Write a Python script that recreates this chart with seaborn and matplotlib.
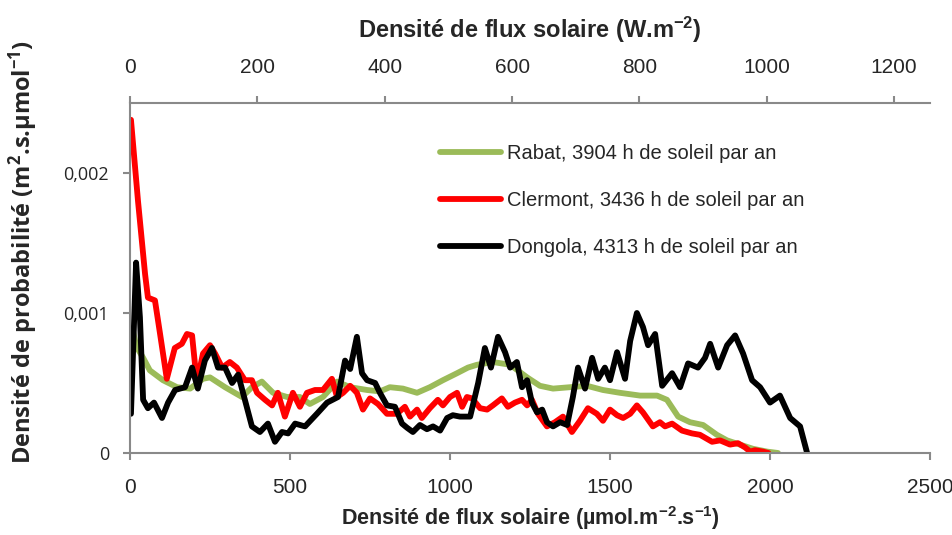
import numpy as np
import pandas as pd
import seaborn as sns
import matplotlib
matplotlib.use("Agg")
import matplotlib.pyplot as plt
from matplotlib.ticker import FixedLocator, FixedFormatter

# Photosynthetic photon flux density (µmol.m-2.s-1) and probability density (m2.s.µmol-1)
rabat_x = [8, 20, 41, 62, 103, 147, 188, 228, 250, 297, 350, 381, 412, 447, 491, 531, 562, 603,
           647, 688, 741, 781, 812, 853, 897, 937, 978, 1022, 1056, 1084, 1134, 1188, 1241, 1281,
           1322, 1375, 1428, 1478, 1531, 1594, 1647, 1678, 1713, 1750, 1791, 1834, 1866, 1906,
           1947, 1991, 2025]
rabat_y = [0.00088, 0.00076, 0.00068, 0.00059, 0.00052, 0.00047, 0.00046, 0.00053, 0.00054,
           0.00047, 0.00040, 0.00047, 0.00051, 0.00043, 0.00040, 0.00040, 0.00035, 0.00040,
           0.00051, 0.00047, 0.00045, 0.00044, 0.00047, 0.00046, 0.00043, 0.00047, 0.00052,
           0.00057, 0.00061, 0.00063, 0.00065, 0.00063, 0.00054, 0.00048, 0.00046, 0.00047,
           0.00048, 0.00045, 0.00043, 0.00041, 0.00041, 0.00038, 0.00026, 0.00022, 0.00020,
           0.00013, 0.00009, 0.00006, 0.00003, 0.00001, 0.0]

clermont_x = [3, 25, 47, 56, 78, 94, 115, 140, 162, 178, 194, 209, 228, 250, 266, 288, 312, 334,
              359, 381, 397, 422, 444, 462, 484, 509, 531, 553, 578, 603, 631, 647, 666, 688, 709,
              728, 750, 775, 803, 834, 859, 875, 897, 912, 937, 962, 978, 1000, 1022, 1038, 1053,
              1069, 1094, 1116, 1134, 1162, 1181, 1203, 1225, 1241, 1256, 1275, 1303, 1328, 1353,
              1381, 1406, 1431, 1459, 1478, 1500, 1522, 1541, 1563, 1584, 1603, 1634, 1656, 1672,
              1694, 1725, 1756, 1781, 1819, 1844, 1875, 1900, 1922, 1938, 1953, 1978, 1995]
clermont_y = [0.00238, 0.00180, 0.00128, 0.00111, 0.00109, 0.00085, 0.00053, 0.00075, 0.00078,
              0.00085, 0.00084, 0.00050, 0.00071, 0.00077, 0.00071, 0.00061, 0.00065, 0.00061,
              0.00052, 0.00052, 0.00043, 0.00038, 0.00034, 0.00043, 0.00026, 0.00043, 0.00033,
              0.00043, 0.00045, 0.00045, 0.00053, 0.00040, 0.00043, 0.00048, 0.00043, 0.00031,
              0.00039, 0.00035, 0.00028, 0.00028, 0.00033, 0.00026, 0.00031, 0.00025, 0.00032,
              0.00038, 0.00034, 0.00040, 0.00043, 0.00033, 0.00040, 0.00039, 0.00032, 0.00031,
              0.00034, 0.00039, 0.00033, 0.00036, 0.00038, 0.00034, 0.00038, 0.00028, 0.00019,
              0.00022, 0.00026, 0.00015, 0.00023, 0.00032, 0.00028, 0.00023, 0.00031, 0.00027,
              0.00025, 0.00028, 0.00034, 0.00029, 0.00019, 0.00022, 0.00019, 0.00021, 0.00016,
              0.00014, 0.00013, 0.00008, 0.00009, 0.00006, 0.00007, 0.00004, 0.00001, 0.00002,
              0.00001, 0.0]

dongola_x = [3, 19, 31, 41, 56, 75, 100, 119, 141, 172, 194, 212, 234, 256, 275, 297, 319, 338,
             359, 381, 406, 431, 453, 475, 494, 516, 547, 584, 616, 650, 672, 688, 709, 725, 741,
             766, 781, 803, 828, 850, 866, 884, 906, 928, 947, 969, 991, 1009, 1031, 1063, 1088,
             1109, 1128, 1150, 1172, 1188, 1209, 1225, 1241, 1256, 1272, 1288, 1303, 1322, 1344,
             1366, 1384, 1400, 1422, 1444, 1463, 1484, 1500, 1522, 1547, 1563, 1584, 1603, 1619,
             1641, 1663, 1694, 1719, 1744, 1775, 1797, 1813, 1838, 1866, 1891, 1916, 1944, 1969,
             2000, 2031, 2063, 2094, 2116]
dongola_y = [0.00028, 0.00136, 0.00097, 0.00038, 0.00032, 0.00036, 0.00025, 0.00036, 0.00045,
             0.00047, 0.00061, 0.00046, 0.00066, 0.00075, 0.00061, 0.00061, 0.00050, 0.00056,
             0.00038, 0.00019, 0.00015, 0.00021, 0.00008, 0.00015, 0.00014, 0.00021, 0.00019,
             0.00028, 0.00036, 0.00040, 0.00066, 0.00060, 0.00083, 0.00057, 0.00052, 0.00050,
             0.00043, 0.00034, 0.00033, 0.00021, 0.00018, 0.00015, 0.00020, 0.00017, 0.00019,
             0.00016, 0.00025, 0.00027, 0.00026, 0.00026, 0.00050, 0.00075, 0.00061, 0.00083,
             0.00072, 0.00061, 0.00065, 0.00047, 0.00052, 0.00036, 0.00029, 0.00031, 0.00022,
             0.00019, 0.00022, 0.00020, 0.00040, 0.00061, 0.00046, 0.00068, 0.00053, 0.00061,
             0.00052, 0.00072, 0.00053, 0.00080, 0.00100, 0.00090, 0.00077, 0.00085, 0.00048,
             0.00057, 0.00047, 0.00064, 0.00061, 0.00068, 0.00078, 0.00061, 0.00077, 0.00084,
             0.00071, 0.00052, 0.00047, 0.00036, 0.00041, 0.00025, 0.00019, 0.0]

site_labels = ["Rabat, 3904 h de soleil par an",
               "Clermont, 3436 h de soleil par an",
               "Dongola, 4313 h de soleil par an"]
site_colors = ["#9BBB59", "#FF0000", "#000000"]

x_ticks = [0, 500, 1000, 1500, 2000, 2500]
w_ticks = [0, 200, 400, 600, 800, 1000, 1200]
y_ticks = [0, 0.001, 0.002]
y_tick_labels = ["0", "0,001", "0,002"]

# µmol photons per joule of solar radiation, used for the W.m-2 axis
UMOL_PER_J = 1.99

frames = []
for label, xs, ys in zip(site_labels,
                         [rabat_x, clermont_x, dongola_x],
                         [rabat_y, clermont_y, dongola_y]):
    frames.append(pd.DataFrame({"flux": xs, "density": ys, "site": label}))
df = pd.concat(frames, ignore_index=True)

sns.set_theme(style="white")
narrow = ["Liberation Sans Narrow", "Liberation Sans", "DejaVu Sans"]
wide = ["Open Sans", "DejaVu Sans"]
plt.rcParams["font.family"] = narrow
plt.rcParams["mathtext.default"] = "regular"

grey = "#898989"

fig = plt.figure(figsize=(9.52, 5.35), dpi=100)
ax = fig.add_axes([130 / 952, 82 / 535, 800 / 952, 350 / 535])

sns.lineplot(data=df, x="flux", y="density", hue="site", hue_order=site_labels,
             palette=dict(zip(site_labels, site_colors)), estimator=None, sort=False,
             linewidth=4.2, ax=ax)
for line in ax.lines:
    line.set_solid_joinstyle("round")
    line.set_solid_capstyle("round")

ax.set_xlim(0, 2500)
ax.set_ylim(0, 0.0025)
ax.xaxis.set_major_locator(FixedLocator(x_ticks))
ax.yaxis.set_major_locator(FixedLocator(y_ticks))
ax.yaxis.set_major_formatter(FixedFormatter(y_tick_labels))

for side in ["top", "right"]:
    ax.spines[side].set_visible(False)
for side in ["left", "bottom"]:
    ax.spines[side].set_color(grey)
    ax.spines[side].set_linewidth(1.5)

ax.tick_params(axis="x", direction="out", length=5, width=1.5, color=grey,
               labelsize=15, pad=13, bottom=True)
ax.tick_params(axis="y", direction="out", length=5, width=1.5, color=grey,
               labelsize=13, pad=10, left=True)
for lab in ax.get_yticklabels():
    lab.set_family(wide)

ax.set_xlabel("Densité de flux solaire (µmol.m$^{-2}$.s$^{-1}$)",
              fontsize=15.5, fontweight="bold")
ax.xaxis.set_label_coords(0.5, -0.145)
ax.set_ylabel("Densité de probabilité (m$^{2}$.s.µmol$^{-1}$)",
              fontsize=17, fontweight="bold", family=wide)
ax.yaxis.set_label_coords(-0.112, 0.574)

secax = ax.secondary_xaxis("top", functions=(lambda v: v / UMOL_PER_J,
                                             lambda w: w * UMOL_PER_J))
secax.xaxis.set_major_locator(FixedLocator(w_ticks))
secax.spines["top"].set_color(grey)
secax.spines["top"].set_linewidth(1.5)
secax.tick_params(axis="x", direction="out", length=5, width=1.5, color=grey,
                  labelsize=15, pad=14)
secax.set_xlabel("Densité de flux solaire (W.m$^{-2}$)", fontsize=17,
                 fontweight="bold", labelpad=14)

handles, labels = ax.get_legend_handles_labels()
ax.legend(handles, labels, loc="upper left", bbox_to_anchor=(0.365, 0.935),
          frameon=False, fontsize=14.5, handlelength=3.0, handletextpad=0.3,
          labelspacing=1.4)

fig.savefig("out.png", dpi=100)
